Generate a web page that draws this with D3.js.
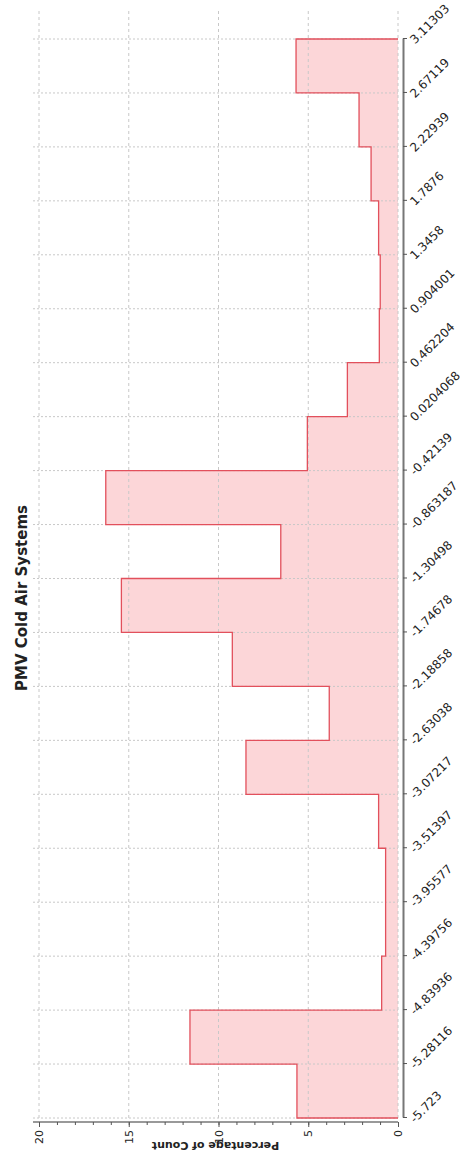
<!DOCTYPE html>
<html>
<head>
<meta charset="utf-8">
<script src="https://cdn.jsdelivr.net/npm/d3@7"></script>
<style>
  body { margin: 0; background: #fff; }
  text { font-family: "DejaVu Sans", Verdana, sans-serif; fill: #222; }
</style>
</head>
<body>
<div id="chart"></div>
<script>
// bin edges of PMV (as printed on the axis)
const binEdges = [-5.723, -5.28116, -4.83936, -4.39756, -3.95577, -3.51397, -3.07217,
    -2.63038, -2.18858, -1.74678, -1.30498, -0.863187, -0.42139, 0.0204068, 0.462204,
    0.904001, 1.3458, 1.7876, 2.22939, 2.67119, 3.11303];
// percentage of count per bin, lowest bin first
const binPercent = [5.63, 11.59, 0.91, 0.69, 0.69, 1.08, 8.47, 3.83, 9.23, 15.41,
    6.53, 16.28, 5.05, 2.82, 1.04, 0.99, 1.08, 1.50, 2.17, 5.68];
const valueTicks = [0, 5, 10, 15, 20];
const minorTicks = d3.range(0, 21);
const chartTitle = 'PMV Cold Air Systems';
const valueTitle = 'Percentage of Count';

// page size
const W = 462, H = 1154;

// the chart is laid out as a normal histogram (inner width = page height),
// then turned a quarter turn counter-clockwise
const innerW = H, innerH = W;
const plot = {l: 36, r: 1146, t: 33, b: 398};

const svg = d3.select('#chart')
    .append('svg')
    .attr('width', W)
    .attr('height', H);

const g = svg.append('g')
    .attr('transform', `translate(0,${H}) rotate(-90)`);

// scales
const scaleX = d3.scaleLinear()
    .domain([binEdges[0], binEdges[binEdges.length - 1]])
    .range([36, 1115]);
const scaleY = d3.scaleLinear()
    .domain([0, 20])
    .range([plot.b, 39]);

// step outline points
const pts = [[binEdges[0], 0]];
binPercent.forEach((v, i) => {
    pts.push([binEdges[i], v]);
    pts.push([binEdges[i + 1], v]);
});
pts.push([binEdges[binEdges.length - 1], 0]);

const line = d3.line()
    .x(d => scaleX(d[0]))
    .y(d => scaleY(d[1]));

// fill
g.append('path')
    .attr('d', line(pts) + 'Z')
    .attr('fill', '#fcd6d8')
    .attr('stroke', 'none');

// grid lines
const grid = g.append('g').attr('class', 'grid');
grid.selectAll('.gx')
    .data(binEdges)
    .enter()
    .append('line')
    .attr('class', 'gx')
    .attr('x1', d => scaleX(d))
    .attr('x2', d => scaleX(d))
    .attr('y1', plot.t)
    .attr('y2', plot.b)
    .attr('stroke', '#c8c8c8')
    .attr('stroke-width', 1)
    .attr('stroke-dasharray', '2,2');
grid.selectAll('.gy')
    .data(valueTicks)
    .enter()
    .append('line')
    .attr('class', 'gy')
    .attr('x1', plot.l)
    .attr('x2', plot.r)
    .attr('y1', d => scaleY(d))
    .attr('y2', d => scaleY(d))
    .attr('stroke', '#c8c8c8')
    .attr('stroke-width', 1)
    .attr('stroke-dasharray', '3,3');

// outline (open at the zero side)
g.append('path')
    .attr('d', line(pts))
    .attr('fill', 'none')
    .attr('stroke', '#e2505c')
    .attr('stroke-width', 1.3);

// bin axis
const axisX = d3.axisBottom(scaleX)
    .tickValues(binEdges)
    .tickSize(4)
    .tickSizeOuter(0)
    .tickFormat(d => String(d));
const axisXNode = g.append('g')
    .attr('class', 'axis axis-x')
    .attr('transform', `translate(0,${plot.b + 5})`)
    .call(axisX);
axisXNode.select('.domain')
    .attr('stroke', '#777')
    .attr('stroke-width', 2);
axisXNode.selectAll('.tick line').attr('stroke', '#555');
axisXNode.selectAll('text')
    .attr('x', 0)
    .attr('y', 0)
    .attr('dy', '0.35em')
    .attr('transform', 'translate(-3,9) rotate(45)')
    .style('text-anchor', 'start')
    .style('font-size', '12px')
    .style('fill', '#222');

// value axis
const axisY = d3.axisLeft(scaleY)
    .tickValues(valueTicks)
    .tickSize(5)
    .tickSizeOuter(0);
const axisYNode = g.append('g')
    .attr('class', 'axis axis-y')
    .attr('transform', `translate(${plot.l - 4},0)`)
    .call(axisY);
axisYNode.select('.domain').remove();
axisYNode.append('line')
    .attr('y1', plot.t)
    .attr('y2', plot.b)
    .attr('stroke', '#777')
    .attr('stroke-width', 1.5);
axisYNode.selectAll('.tick line').attr('stroke', '#555');
axisYNode.selectAll('text')
    .attr('x', -8)
    .style('font-size', '11px')
    .style('fill', '#222');

const axisYMinor = d3.axisLeft(scaleY)
    .tickValues(minorTicks)
    .tickSize(3)
    .tickSizeOuter(0)
    .tickFormat('');
const minorNode = g.append('g')
    .attr('transform', `translate(${plot.l - 4},0)`)
    .call(axisYMinor);
minorNode.select('.domain').remove();
minorNode.selectAll('.tick line').attr('stroke', '#555');

// axis title
g.append('text')
    .attr('transform', `translate(8,${(plot.t + plot.b) / 2}) rotate(-90)`)
    .attr('text-anchor', 'middle')
    .attr('dy', '0.35em')
    .style('font-size', '11px')
    .style('font-weight', 'bold')
    .text(valueTitle);

// chart title
g.append('text')
    .attr('x', innerW - 598)
    .attr('y', 27)
    .attr('text-anchor', 'middle')
    .style('font-size', '15px')
    .style('font-weight', 'bold')
    .text(chartTitle);
</script>
</body>
</html>
